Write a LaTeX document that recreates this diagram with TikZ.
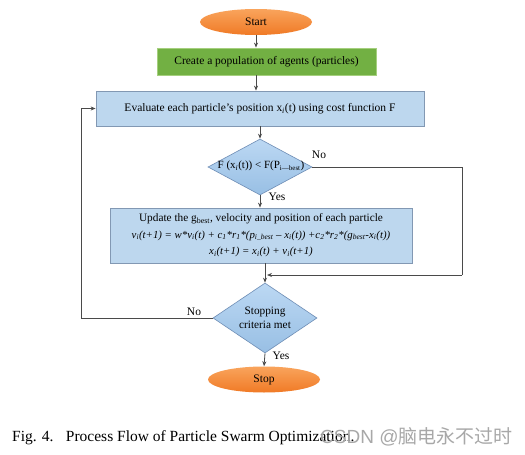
\documentclass[tikz,border=0pt]{standalone}
\usepackage{fontspec}
\setmainfont{Liberation Serif}
\newfontfamily\cjkfont{Noto Sans CJK SC}
\newfontfamily\wmsans{Liberation Sans}
\usetikzlibrary{shapes.geometric,arrows.meta}
\definecolor{ornA}{HTML}{F9A45C}
\definecolor{ornB}{HTML}{F07A26}
\definecolor{grn}{HTML}{72B043}
\definecolor{grnB}{HTML}{A5CF7E}
\definecolor{bluF}{HTML}{BDD7EE}
\definecolor{bluB}{HTML}{8298B3}
\definecolor{diaA}{HTML}{BCD8F3}
\definecolor{diaB}{HTML}{98BFE4}
\definecolor{diaD}{HTML}{6E8DB5}
\definecolor{lnc}{HTML}{4A4A4A}
\definecolor{wmc}{HTML}{A8A8A8}
\begin{document}
\begin{tikzpicture}[x=1pt,y=-1pt,
  term/.style={ellipse,draw=none,top color=ornA,bottom color=ornB,minimum width=112pt,minimum height=26pt,inner sep=0pt,font=\fontsize{11.5}{13}\selectfont},
  greenbox/.style={rectangle,fill=grn,draw=grnB,line width=0.8pt,minimum width=219pt,minimum height=27pt,inner sep=0pt,font=\fontsize{11.5}{13}\selectfont},
  bluebox/.style={rectangle,fill=bluF,draw=bluB,line width=0.8pt,inner sep=0pt,font=\fontsize{11.5}{13}\selectfont,align=center},
  decide/.style={diamond,top color=diaA,bottom color=diaB,draw=diaD,line width=0.6pt,inner sep=0pt,aspect=1.6,align=center,font=\fontsize{11.3}{13.5}\selectfont},
  conn/.style={draw=lnc,line width=0.8pt},
  arr/.style={conn,-{Stealth[length=5pt,width=4pt]}},
  lbl/.style={font=\fontsize{11.5}{13}\selectfont,inner sep=0pt}
]
\useasboundingbox (0,0) rectangle (525,455);
\fill[white] (0,0) rectangle (525,455);

\node[term] (start) at (256,22) {Start};
\node[greenbox] (create) at (266.5,61.5) {Create a population of agents (particles)};
\node[bluebox,minimum width=328pt,minimum height=35pt] (eval) at (260,108.5)
  {Evaluate each particle's position x\textsubscript{\itshape i}(t) using cost function F};
\node[decide,minimum width=104pt,minimum height=56pt] (d1) at (260,167) {};
\node[lbl,font=\fontsize{11}{12}\selectfont] (d1t) at (261,166) {F (x\textsubscript{\itshape i}(t)) < F(P\textsubscript{\scriptsize i—best})};
\node[bluebox,minimum width=302pt,minimum height=55pt,font=\fontsize{11.3}{16.5}\selectfont] (upd) at (261,235.5)
  {Update the g\textsubscript{best}, velocity and position of each particle\\
   {\fontsize{10.8}{16.5}\selectfont\itshape v\textsubscript{i}(t+1) = w*v\textsubscript{i}(t) + c\textsubscript{1}*r\textsubscript{1}*(p\textsubscript{i\_best} – x\textsubscript{i}(t)) +c\textsubscript{2}*r\textsubscript{2}*(g\textsubscript{best}-x\textsubscript{i}(t))}\\
   {\fontsize{10.8}{16.5}\selectfont\itshape x\textsubscript{i}(t+1) = x\textsubscript{i}(t) + v\textsubscript{i}(t+1)}};
\node[decide,minimum width=104pt,minimum height=70pt] (d2) at (265,318) {Stopping\\criteria met};
\node[term] (stop) at (264,379.5) {Stop};

\coordinate (rtop) at (462,167);
\coordinate (rbot) at (462,275);
\coordinate (join) at (267,275);
\coordinate (lbot) at (81,318);
\coordinate (ltop) at (81,108.5);

\draw[arr] (start.south) -- (start.south |- create.north);
\draw[arr] ([xshift=-10.5pt]create.south) -- ([xshift=-10.5pt]create.south |- eval.north);
\draw[arr] (eval.south) -- (d1.north);
\draw[arr] (d1.south) -- (d1.south |- upd.north);
\draw[arr] ([xshift=4pt]upd.south) -- (d2.north);
\draw[conn] (d1.east) -- (rtop) -- (rbot);
\draw[arr] (rbot) -- (join);
\draw[arr] (d2.south) -- (stop.north);
\draw[conn] (d2.west) -- (lbot) -- (ltop);
\draw[arr] (ltop) -- (eval.west);

\node[lbl] (no1) at (319,155) {No};
\node[lbl] (yes1) at (277,196.5) {Yes};
\node[lbl] (no2) at (194,311.5) {No};
\node[lbl] (yes2) at (281,356) {Yes};

\node[anchor=base west,inner sep=0pt,font=\fontsize{15.5}{17}\selectfont] (cap) at (12,441)
  {Fig. 4.\hspace{0.8em}Process Flow of Particle Swarm Optimization.};
\node[anchor=base west,inner sep=0pt,text=wmc,font=\fontsize{19}{21}\selectfont] (wm) at (320,443)
  {\wmsans CSDN @\cjkfont 脑电永不过时};
\end{tikzpicture}
\end{document}
